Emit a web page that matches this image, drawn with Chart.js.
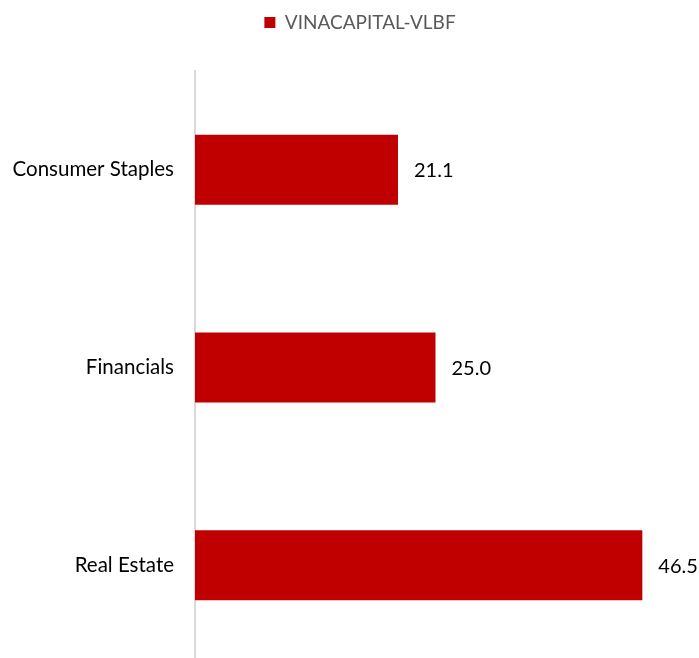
<!DOCTYPE html>
<html>
<head>
<meta charset="utf-8">
<script src="https://cdn.jsdelivr.net/npm/chart.js@4"></script>
<style>
  html, body { margin: 0; padding: 0; background: #fff; overflow: hidden; }
  canvas { display: block; }
</style>
</head>
<body>
<canvas id="c" width="699" height="666"></canvas>
<script>
const categories = ["Consumer Staples", "Financials", "Real Estate"];
const seriesName = "VINACAPITAL-VLBF";
const seriesValues = [21.1, 25.0, 46.5];
const xMax = 50;

const valueLabels = {
  id: 'valueLabels',
  afterDatasetsDraw(chart) {
    const ctx = chart.ctx;
    const meta = chart.getDatasetMeta(0);
    ctx.save();
    ctx.font = '20px Lato';
    ctx.fillStyle = '#000000';
    ctx.textAlign = 'left';
    ctx.textBaseline = 'middle';
    meta.data.forEach((bar, i) => {
      ctx.fillText(seriesValues[i].toFixed(1), bar.x + 16, bar.y + 1);
    });
    ctx.restore();
  }
};

const legendMargin = {
  id: 'legendMargin',
  beforeInit(chart) {
    const orig = chart.legend.fit;
    chart.legend.fit = function () {
      orig.bind(chart.legend)();
      this.height += 29;
    };
  },
  afterLayout(chart) {
    chart.legend.left += 22;
    chart.legend.right += 22;
  }
};

new Chart(document.getElementById('c'), {
  type: 'bar',
  data: {
    labels: categories,
    datasets: [{
      label: seriesName,
      data: seriesValues,
      backgroundColor: '#C00000',
      borderWidth: 0,
      categoryPercentage: 1.0,
      barPercentage: 0.354
    }]
  },
  options: {
    indexAxis: 'y',
    responsive: false,
    animation: false,
    layout: { padding: { top: 3, right: 23, bottom: 2, left: 0 } },
    plugins: {
      legend: {
        display: true,
        position: 'top',
        labels: {
          boxWidth: 11,
          boxHeight: 11,
          color: '#595959',
          font: { family: 'Lato', size: 19 },
          padding: 10
        }
      },
      tooltip: { enabled: false }
    },
    scales: {
      x: {
        display: false,
        min: 0,
        max: xMax
      },
      y: {
        grid: { display: false, drawTicks: false },
        border: { display: true, color: '#d9d9d9', width: 2 },
        ticks: {
          color: '#000000',
          font: { family: 'Lato', size: 20.5 },
          padding: 21
        },
        afterFit(scale) {
          scale.width = 195;
          scale.paddingTop = 0;
          scale.paddingBottom = 0;
        }
      }
    }
  },
  plugins: [valueLabels, legendMargin]
});
</script>
</body>
</html>
